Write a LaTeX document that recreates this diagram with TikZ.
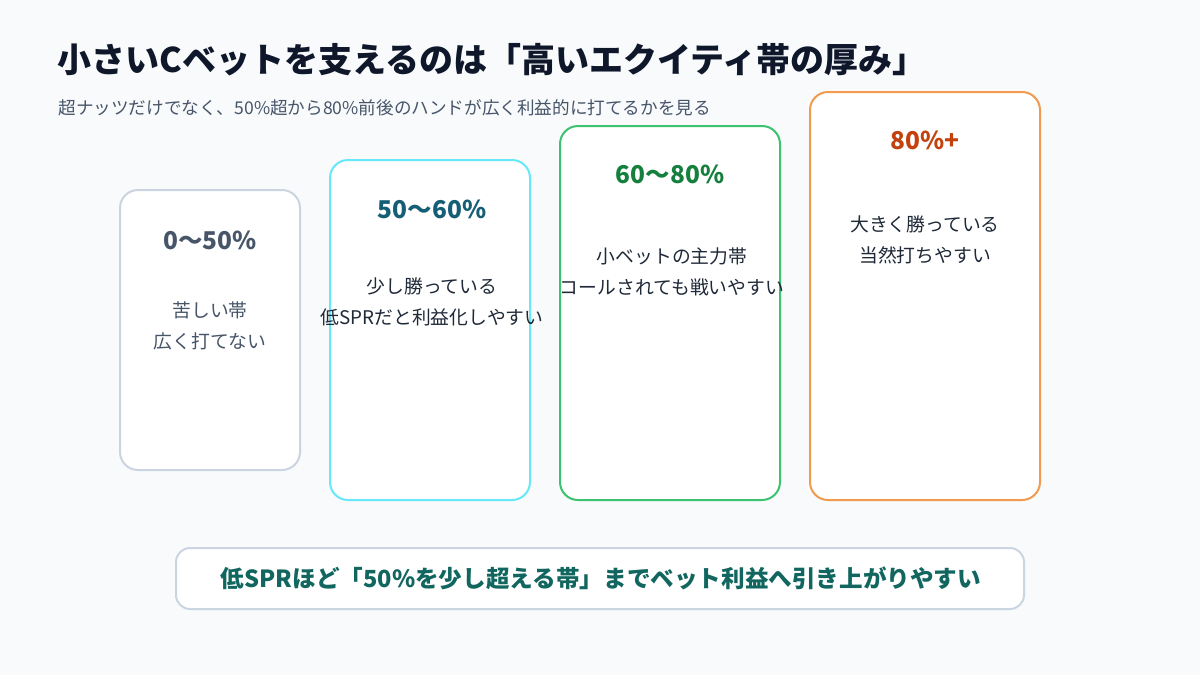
\documentclass[tikz,border=0pt]{standalone}
\usepackage{fontspec}
\setmainfont{Noto Sans CJK JP}
\definecolor{bg}{HTML}{F8FAFC}
\definecolor{titlec}{HTML}{0F172A}
\definecolor{subc}{HTML}{475569}
\definecolor{bodyc}{HTML}{1F2937}
\definecolor{grayb}{HTML}{CBD5E1}
\definecolor{cyanb}{HTML}{67E8F9}
\definecolor{greenb}{HTML}{3CC36F}
\definecolor{orangeb}{HTML}{F29A4E}
\definecolor{hgray}{HTML}{475569}
\definecolor{hteal}{HTML}{155E75}
\definecolor{hgreen}{HTML}{15803D}
\definecolor{horange}{HTML}{C2410C}
\definecolor{bannerc}{HTML}{11675F}
\begin{document}
\begin{tikzpicture}[x=1pt,y=-1pt,
  card/.style={draw, line width=2pt, fill=white, rounded corners=18pt, inner sep=0pt},
  head/.style={font=\bfseries\fontsize{24.5}{28}\selectfont, anchor=center},
  body/.style={font=\fontsize{18.8}{31}\selectfont, text=bodyc, align=center, anchor=north},
]
\useasboundingbox (0,0) rectangle (1200,675);
\fill[bg] (0,0) rectangle (1200,675);

\node[anchor=west, text=titlec, font=\bfseries\fontsize{34}{38}\selectfont] (title) at (54,60)
  {小さいCベットを支えるのは「高いエクイティ帯の厚み」};
\node[anchor=west, text=subc, font=\fontsize{17.6}{20}\selectfont] (sub) at (55,108)
  {超ナッツだけでなく、50\%超から80\%前後のハンドが広く利益的に打てるかを見る};

\node[card, draw=grayb, minimum width=180pt, minimum height=280pt] (c1) at (210,330) {};
\node[card, draw=cyanb, minimum width=200pt, minimum height=340pt] (c2) at (430,330) {};
\node[card, draw=greenb, minimum width=220pt, minimum height=374pt] (c3) at (670,313) {};
\node[card, draw=orangeb, minimum width=230pt, minimum height=408pt] (c4) at (925,296) {};

\node[head, text=hgray] (h1) at (210,240) {0〜50\%};
\node[head, text=hteal] (h2) at (432,209) {50〜60\%};
\node[head, text=hgreen] (h3) at (670,174) {60〜80\%};
\node[head, text=horange] (h4) at (925,140) {80\%+};

\node[body, text=subc] (b1) at (210,298) {苦しい帯\\広く打てない};
\node[body] (b2) at (432,274) {少し勝っている\\低SPRだと利益化しやすい};
\node[body] (b3) at (672,244) {小ベットの主力帯\\コールされても戦いやすい};
\node[body] (b4) at (925,212) {大きく勝っている\\当然打ちやすい};

\node[draw=grayb, line width=2pt, fill=white, rounded corners=14pt, minimum width=848pt, minimum height=61pt] (banner) at (600,578.5) {};
\node[text=bannerc, font=\bfseries\fontsize{23.6}{26}\selectfont] (bt) at (601,578) {低SPRほど「50\%を少し超える帯」までベット利益へ引き上がりやすい};
\end{tikzpicture}
\end{document}
